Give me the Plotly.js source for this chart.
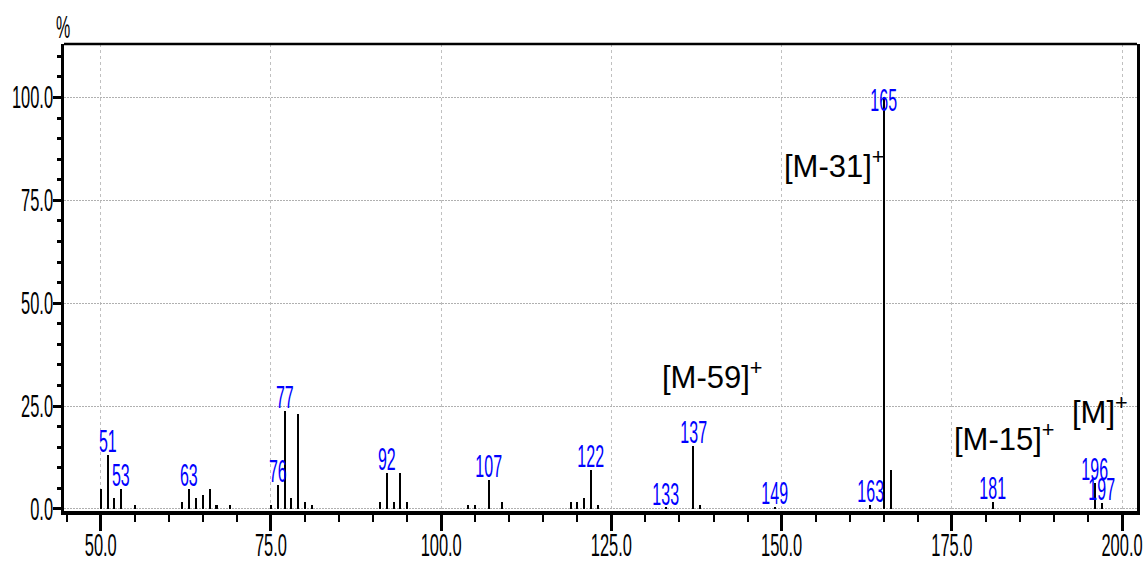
<!DOCTYPE html>
<html>
<head>
<meta charset="utf-8">
<script src="https://cdn.plot.ly/plotly-3.0.1.min.js"></script>
<style>
  html, body { margin: 0; padding: 0; background: #ffffff; }
  #chart { width: 1146px; height: 563px; }
</style>
</head>
<body>
<div id="chart"></div>
<script>
// m/z values of the peaks
const mz = [50, 51, 52, 53, 55, 62, 63, 64, 65, 66, 67, 69, 75, 76, 77, 78, 79, 80, 81,
            91, 92, 93, 94, 95, 104, 105, 107, 109, 119, 120, 121, 122, 123,
            133, 137, 138, 149, 163, 165, 166, 181, 196, 197];
// relative intensities (%)
const intensity = [4.8, 13.1, 2.6, 4.9, 1.0, 1.8, 4.9, 2.6, 3.3, 4.9, 1.0, 1.0, 1.0, 5.7, 23.9, 2.6, 23.1, 1.8, 1.0,
                   1.8, 8.7, 1.8, 8.7, 1.8, 1.0, 1.0, 7.0, 1.8, 1.8, 1.8, 2.6, 9.5, 1.0,
                   0.3, 15.4, 1.0, 0.4, 1.0, 100.0, 9.5, 1.8, 6.4, 1.5];
// peaks that carry an m/z label
const labeledMz = [51, 53, 63, 76, 77, 92, 107, 122, 133, 137, 149, 163, 165, 181, 196, 197];
// fragment ion annotations
const ionText = ["[M-31]", "[M-59]", "[M-15]", "[M]"];
const ionX = [150.2, 132.3, 175.2, 192.5];
const ionY = [79.7, 28.5, 13.4, 19.8];
// axis tick values
const xTicks = [50, 75, 100, 125, 150, 175, 200];
const yTicks = [0, 25, 50, 75, 100];

const FONT = "Liberation Sans, Arial, sans-serif";

const peakTrace = {
  type: "bar",
  x: mz,
  y: intensity,
  width: 0.3,
  marker: { color: "#000000", line: { width: 0 } },
  hoverinfo: "x+y",
  showlegend: false
};

const annotations = [];
labeledMz.forEach(m => {
  const v = intensity[mz.indexOf(m)];
  annotations.push({
    x: m, y: Math.min(v, 96), xref: "x", yref: "y",
    text: String(m), showarrow: false,
    xanchor: "center", yanchor: "bottom", yshift: -5, borderpad: 0,
    font: { family: FONT, size: 32, color: "#0000ff" }
  });
});
ionText.forEach((t, i) => {
  annotations.push({
    x: ionX[i], y: ionY[i], xref: "x", yref: "y",
    text: t + "<sup>+</sup>", showarrow: false,
    xanchor: "left", yanchor: "bottom", yshift: -4, borderpad: 0,
    font: { family: FONT, size: 31, color: "#000000" }
  });
});
annotations.push({
  x: 0, y: 1, xref: "paper", yref: "paper", text: "%", showarrow: false,
  xanchor: "center", yanchor: "bottom", xshift: -1.5, yshift: -2, borderpad: 0,
  font: { family: FONT, size: 32, color: "#000000" }
});

const layout = {
  width: 1146, height: 563,
  margin: { l: 64, r: 9, t: 44, b: 52, pad: 0 },
  paper_bgcolor: "#ffffff", plot_bgcolor: "#ffffff",
  font: { family: FONT, color: "#000000" },
  bargap: 0,
  xaxis: {
    range: [44.6, 202.2],
    tickmode: "array", tickvals: xTicks, tickformat: ".1f",
    ticks: "outside", ticklen: 16, tickwidth: 2.5, tickcolor: "#000000",
    tickfont: { family: FONT, size: 31, color: "#000000" },
    ticklabelstandoff: -12, ticklabeloverflow: "allow",
    showline: true, linewidth: 4, linecolor: "#000000", mirror: false,
    showgrid: true, gridcolor: "#c0c0c0", gridwidth: 1.2, griddash: "3px,3px",
    zeroline: false,
    minor: { dtick: 5, tick0: 0, ticks: "outside", ticklen: 7, tickwidth: 2, tickcolor: "#000000", showgrid: false }
  },
  yaxis: {
    range: [-0.5, 113.0],
    tickmode: "array", tickvals: yTicks, tickformat: ".1f",
    ticks: "outside", ticklen: 8, tickwidth: 2.5, tickcolor: "#000000",
    tickfont: { family: FONT, size: 31, color: "#000000" },
    ticklabelstandoff: -6, ticklabeloverflow: "allow",
    showline: true, linewidth: 2.5, linecolor: "#000000", mirror: true,
    showgrid: true, gridcolor: "#b0b0b0", gridwidth: 1.2, griddash: "2px,1px",
    zeroline: false,
    minor: { dtick: 5, tick0: 0, ticks: "outside", ticklen: 4, tickwidth: 2.5, tickcolor: "#000000", showgrid: false }
  },
  shapes: [
    { type: "line", xref: "paper", yref: "paper", x0: 0, x1: 1, y0: 1, y1: 1,
      line: { color: "#000000", width: 2.5 } }
  ],
  annotations: annotations
};

function squeeze(el, f) {
  const L = el.getComputedTextLength();
  if (L > 0) {
    el.setAttribute("textLength", (L * f).toFixed(2));
    el.setAttribute("lengthAdjust", "spacingAndGlyphs");
  }
}

Plotly.newPlot("chart", [peakTrace], layout, { displayModeBar: false, responsive: false })
  .then(gd => {
    gd.querySelectorAll(".xtick text, .ytick text").forEach(el => squeeze(el, 0.53));
    gd.querySelectorAll("text.annotation-text").forEach(el => {
      const t = el.textContent.trim();
      if (/^\d+$/.test(t) || t === "%") squeeze(el, 0.5);
    });
  });
</script>
</body>
</html>
